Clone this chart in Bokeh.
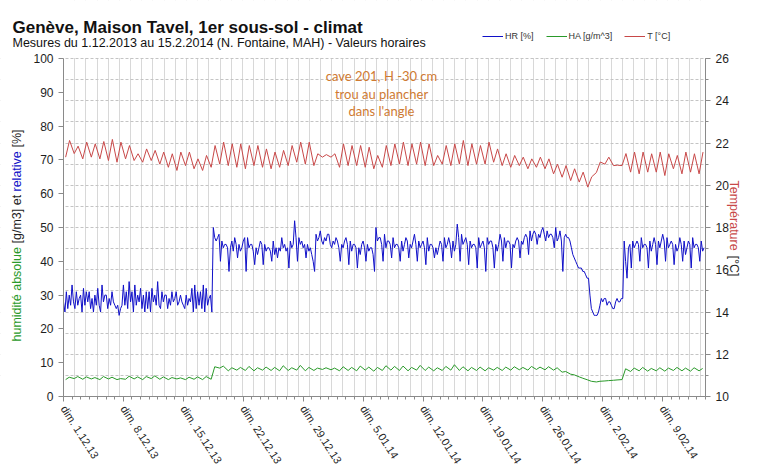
import math
from bokeh.plotting import figure
from bokeh.models import (Range1d, LinearAxis, FixedTicker, Grid, Label,
                          Legend, LegendItem, BoxAnnotation)
from bokeh.embed import file_html
from bokeh.resources import INLINE

# ---------------- data ----------------
tick_days = [0, 7, 14, 21, 28, 35, 42, 49, 56, 63, 70]
tick_labels = ["dim. 1.12.13", "dim. 8.12.13", "dim. 15.12.13", "dim. 22.12.13",
               "dim. 29.12.13", "dim. 5.01.14", "dim. 12.01.14", "dim. 19.01.14",
               "dim. 26.01.14", "dim. 2.02.14", "dim. 9.02.14"]
n_days = 75

# HR [%] : 6 readings per day (00h, 04h, 08h, 12h, 16h, 20h)
hr_hours = [0, 4, 8, 12, 16, 20]
hr_values = [
    28, 25, 31, 26, 30, 27,   33, 28, 26, 31, 27, 29,   30, 25, 32, 27, 31, 28,
    31, 26, 29, 25, 30, 27,   32, 27, 25, 33, 28, 30,   30, 26, 29, 27, 31, 28,
    27, 26, 27, 24, 26, 27,   33, 27, 31, 26, 34, 28,   31, 25, 33, 27, 30, 28,
    32, 26, 30, 25, 31, 26,   31, 25, 32, 28, 30, 27,   34, 27, 26, 31, 28, 30,
    30, 26, 29, 27, 31, 28,   29, 31, 27, 28, 30, 28,   27, 26, 30, 27, 29, 28,
    32, 25, 33, 26, 31, 27,   31, 26, 33, 25, 32, 27,   29, 30, 25, 50, 47, 46,
    47, 48, 40, 46, 44, 45,   45, 44, 37, 44, 46, 43,   47, 45, 41, 45, 43, 44,
    46, 47, 37, 47, 44, 45,   45, 43, 39, 44, 42, 44,   46, 45, 39, 45, 43, 44,
    44, 43, 40, 46, 42, 44,   41, 44, 43, 47, 44, 45,   43, 44, 38, 46, 44, 45,
    52, 47, 40, 47, 45, 46,   44, 45, 41, 45, 43, 44,   42, 40, 37, 48, 46, 47,
    49, 46, 45, 47, 46, 48,   48, 45, 44, 46, 45, 47,   46, 44, 40, 45, 44, 46,
    47, 45, 39, 46, 43, 45,   45, 44, 38, 44, 42, 45,   46, 44, 40, 45, 43, 44,
    44, 42, 37, 50, 46, 47,   47, 45, 40, 48, 44, 46,   46, 45, 41, 47, 44, 45,
    45, 44, 40, 46, 43, 45,   47, 46, 41, 45, 44, 46,   48, 45, 40, 46, 44, 45,
    46, 44, 39, 47, 43, 45,   45, 44, 41, 44, 42, 44,   46, 45, 40, 47, 44, 45,
    47, 45, 41, 46, 43, 45,   51, 47, 40, 48, 45, 46,   47, 45, 39, 46, 44, 45,
    45, 44, 38, 47, 44, 45,   46, 44, 37, 47, 45, 46,   46, 44, 38, 45, 43, 45,
    48, 46, 40, 47, 44, 46,   46, 45, 38, 45, 44, 46,   47, 46, 41, 46, 45, 47,
    48, 47, 42, 49, 46, 48,   49, 48, 45, 48, 47, 49,   50, 48, 46, 49, 47, 48,
    48, 47, 44, 50, 46, 47,   49, 46, 37, 47, 48, 47,   47, 46, 44, 42, 41, 40,
    39, 38, 38, 38, 37, 37,   36, 35, 35, 30, 26, 25,   24, 24, 24, 25, 27, 29,
    28, 29, 29, 27, 28, 28,   27, 26, 26, 28, 29, 28,   28, 29, 29, 46, 40, 35,
    44, 45, 38, 46, 44, 45,   46, 45, 40, 47, 44, 45,   45, 44, 38, 46, 43, 45,
    47, 45, 39, 46, 44, 46,   48, 46, 40, 47, 44, 45,   46, 45, 39, 45, 43, 44,
    47, 45, 40, 46, 42, 44,   46, 45, 38, 47, 44, 45,   45, 44, 40, 46, 43, 44,
]

# T [°C] : daily minimum (~06h) and maximum (~17h)
t_max = [22.12, 21.85, 22.04, 21.96, 22.07, 22.17, 22.04, 21.88, 21.49, 21.72,
         21.65, 21.57, 21.49, 21.57, 21.57, 21.25, 21.41, 21.88, 22.04, 21.96,
         21.96, 21.88, 21.88, 21.72, 21.57, 21.65, 21.88, 22.04, 22.04, 21.49,
         21.45, 21.49, 21.96, 21.88, 21.88, 21.80, 21.41, 21.88, 21.96, 22.04,
         21.96, 22.04, 21.96, 21.41, 21.88, 21.96, 22.12, 21.96, 21.88, 22.04,
         21.72, 21.49, 21.41, 21.33, 21.25, 21.33, 21.25, 21.00, 20.93, 20.78,
         20.62, 20.40, 21.10, 21.33, 20.95, 21.50, 21.57, 21.57, 21.49, 21.57,
         21.49, 21.41, 21.57, 21.49, 21.57]
t_min = [21.33, 21.50, 21.25, 21.33, 21.25, 21.17, 21.09, 21.25, 21.17, 21.09,
         21.17, 21.00, 20.85, 20.70, 20.93, 20.78, 20.70, 20.85, 21.00, 20.93,
         20.85, 20.78, 20.93, 20.85, 20.78, 20.85, 20.93, 21.09, 21.00, 20.93,
         21.33, 21.33, 20.85, 20.93, 20.93, 20.85, 20.78, 20.85, 20.93, 21.00,
         20.93, 21.00, 20.93, 20.93, 21.00, 20.93, 21.00, 20.93, 21.00, 21.00,
         21.09, 20.93, 20.85, 20.93, 20.78, 20.85, 20.78, 20.54, 20.38, 20.22,
         20.15, 19.91, 20.60, 21.00, 20.93, 20.93, 20.62, 20.54, 20.62, 20.62,
         20.46, 20.78, 20.54, 20.62, 20.54]

# HA [g/m^3] : daily low (~06h) and high (~16h)
ha_low = [5.0, 5.3, 5.1, 5.2, 5.0, 5.2, 5.0, 5.1, 5.2, 5.0,
          5.3, 5.1, 5.0, 5.2, 5.0, 5.1, 5.0, 5.1, 8.4, 7.6,
          7.8, 7.7, 7.6, 7.8, 7.7, 7.6, 7.7, 7.8, 7.6, 7.7,
          8.0, 7.9, 7.6, 7.7, 7.6, 7.8, 7.5, 7.7, 7.8, 7.7,
          7.6, 7.8, 7.7, 7.6, 7.7, 7.8, 7.7, 7.6, 7.7, 7.6,
          7.8, 7.7, 7.8, 7.9, 7.8, 8.0, 7.9, 7.8, 7.2, 6.6,
          5.8, 4.9, 4.3, 4.6, 4.8, 5.0, 7.4, 7.6, 7.5, 7.6,
          7.5, 7.7, 7.6, 7.5, 7.6]
ha_high = [5.7, 5.9, 5.8, 5.6, 5.9, 5.7, 5.3, 6.0, 5.8, 5.9,
           6.1, 5.8, 5.6, 5.5, 5.7, 5.8, 5.9, 8.8, 9.0, 8.5,
           8.6, 8.9, 8.5, 8.7, 8.6, 9.1, 8.5, 9.2, 8.6, 8.4,
           8.5, 8.4, 8.8, 8.6, 9.0, 8.7, 8.6, 9.1, 8.9, 9.0,
           8.6, 9.2, 8.7, 8.5, 8.9, 9.4, 8.8, 8.6, 8.7, 8.5,
           8.6, 8.7, 8.8, 8.6, 8.9, 8.7, 8.8, 8.5, 7.4, 6.4,
           5.4, 4.5, 4.5, 4.7, 4.9, 8.2, 8.4, 8.6, 8.3, 8.5,
           8.4, 8.6, 8.4, 8.5, 8.3]

# ---------------- build series (time in days since 1.12.2013 00h) ----------------
hr_t = [d + h / 24 for d in range(n_days) for h in hr_hours]
t_t, t_v, ha_t, ha_v = [], [], [], []
for d in range(n_days):
    t_t += [d + 6 / 24, d + 17 / 24]
    t_v += [t_min[d], t_max[d]]
    ha_t += [d + 6 / 24, d + 16 / 24]
    ha_v += [ha_low[d], ha_high[d]]

# ---------------- layout geometry (canvas pixels) ----------------
W, H = 759, 468
FX0, FX1, FY0, FY1 = 63, 705, 58, 396       # plot area: left, right, top, bottom
L0, L1 = 0, 100                              # left axis range
R0, R1 = 10, 26                              # right axis range
X0, X1 = 0, n_days                           # day range

ux = (X1 - X0) / (FX1 - FX0)
uy = (L1 - L0) / (FY1 - FY0)
ur = (R1 - R0) / (FY1 - FY0)
x_rng = Range1d(X0 - FX0 * ux, X1 + (W - FX1) * ux)
y_rng = Range1d(L0 - (H - FY1) * uy, L1 + FY0 * uy)
t_rng = Range1d(R0 - (H - FY1) * ur, R1 + FY0 * ur)

FONT = "Liberation Sans"
BLUE = "#1010c8"
GREEN = "#2a9a2a"
RED = "#c84848"
TXT = "#1e1e1e"

p = figure(width=W, height=H, output_backend="svg", toolbar_location=None,
           x_range=x_rng, y_range=y_rng,
           min_border_left=0, min_border_right=0, min_border_top=0,
           min_border_bottom=0)
p.extra_y_ranges = {"temp": t_rng}
p.outline_line_color = None
p.background_fill_color = "white"
p.border_fill_color = "white"
p.xgrid.visible = False
p.ygrid.visible = False

# grids
vgrid = Grid(dimension=0,
             ticker=FixedTicker(ticks=[k * 1.306 for k in range(1, int(n_days / 1.306) + 1)]),
             grid_line_color="#d8d8d8", grid_line_width=1)
hgrid = Grid(dimension=1, y_range_name="temp",
             ticker=FixedTicker(ticks=list(range(R0 + 1, R1 + 1))),
             grid_line_color="#c4c4c4", grid_line_dash="3 2", grid_line_width=1)
p.add_layout(vgrid, "center")
p.add_layout(hgrid, "center")

# white masks so that the grid stays inside the plot area
eps = 0.6
for kw in [dict(left=x_rng.start, right=X0, bottom=y_rng.start, top=y_rng.end),
           dict(left=X1, right=x_rng.end, bottom=y_rng.start, top=y_rng.end),
           dict(left=x_rng.start, right=x_rng.end, bottom=L1 + eps * uy, top=y_rng.end),
           dict(left=x_rng.start, right=x_rng.end, bottom=y_rng.start, top=L0)]:
    p.add_layout(BoxAnnotation(fill_color="white", fill_alpha=1.0, line_alpha=0,
                               level="underlay", **kw), "center")

# lines
r_t = p.line(t_t, t_v, color=RED, line_width=1, y_range_name="temp")
r_ha = p.line(ha_t, ha_v, color=GREEN, line_width=1)
r_hr = p.line(hr_t, hr_values, color=BLUE, line_width=1)

# axes (fixed at the edges of the plot area)
def style_axis(ax):
    ax.axis_line_color = "#8a8a8a"
    ax.major_tick_line_color = "#8a8a8a"
    ax.minor_tick_line_color = "#8a8a8a"
    ax.major_tick_in = 0
    ax.major_tick_out = 5
    ax.minor_tick_in = 0
    ax.minor_tick_out = 3
    ax.major_label_text_font = FONT
    ax.major_label_text_color = TXT
    ax.major_label_text_font_size = "12px"

xa = p.xaxis[0]
xa.ticker = FixedTicker(ticks=tick_days, minor_ticks=list(range(X0, X1 + 1)))
xa.major_label_overrides = {d: lab for d, lab in zip(tick_days, tick_labels)}
xa.fixed_location = L0
xa.bounds = (X0, X1)
style_axis(xa)
xa.major_label_text_font_size = "11px"
xa.major_label_orientation = -1.0

ya = p.yaxis[0]
ya.ticker = FixedTicker(ticks=list(range(L0, L1 + 1, 10)), minor_ticks=[])
ya.fixed_location = X0
ya.bounds = (L0, L1)
style_axis(ya)

yr = LinearAxis(y_range_name="temp", fixed_location=X1, bounds=(R0, R1),
                ticker=FixedTicker(ticks=list(range(R0, R1 + 1, 2)),
                                   minor_ticks=list(range(R0, R1 + 1))))
style_axis(yr)
p.add_layout(yr, "right")

# legend (horizontal, above the plot area)
legend = Legend(items=[LegendItem(label="HR [%]", renderers=[r_hr]),
                       LegendItem(label="HA [g/m^3]", renderers=[r_ha]),
                       LegendItem(label="T [°C]", renderers=[r_t])],
                orientation="horizontal", location=(482, H - 41),
                label_text_font=FONT, label_text_font_size="9px",
                label_text_color="#333333",
                glyph_width=21, glyph_height=10, label_height=10,
                label_standoff=2, spacing=12, padding=0, margin=0,
                border_line_color=None, background_fill_alpha=0)
p.add_layout(legend, "center")

def lab(x, y, text, **kw):
    """x, y in canvas pixels from the top-left corner"""
    p.add_layout(Label(x=x, y=H - y, x_units="screen", y_units="screen", text=text,
                       **kw), "center")

# titles
lab(12, 27, "Genève, Maison Tavel, 1er sous-sol - climat", text_font=FONT,
    text_font_style="bold", text_font_size="17px", text_color="#111111",
    text_baseline="alphabetic")
lab(12, 42, "Mesures du 1.12.2013 au 15.2.2014 (N. Fontaine, MAH) - Valeurs horaires",
    text_font=FONT, text_font_size="12.5px", text_color="#111111",
    text_baseline="alphabetic")

# annotation in the plot area
ORANGE = "#cf7a32"
for txt, yy in [("cave 201, H -30 cm", 75), ("trou au plancher", 93), ("dans l'angle", 110)]:
    lab(381, yy, txt, text_font="Lato", text_font_size="13px", text_color=ORANGE,
        text_align="center", text_baseline="middle")

# left axis title, multicoloured, reading upwards
for txt, col, yy in [("humidité absolue", GREEN, 341), ("[g/m3] et", TXT, 243),
                     ("relative", BLUE, 191), ("[%]", TXT, 147)]:
    lab(16, yy, txt, angle=math.pi / 2, text_font=FONT, text_font_size="12.5px",
        text_color=col, text_align="left", text_baseline="middle")

# right axis title, reading downwards
for txt, col, yy in [("Température", RED, 180), ("[°C]", TXT, 255)]:
    lab(733, yy, txt, angle=-math.pi / 2, text_font=FONT, text_font_size="12.5px",
        text_color=col, text_align="left", text_baseline="middle")

open("out.html", "w").write(file_html(p, INLINE))
